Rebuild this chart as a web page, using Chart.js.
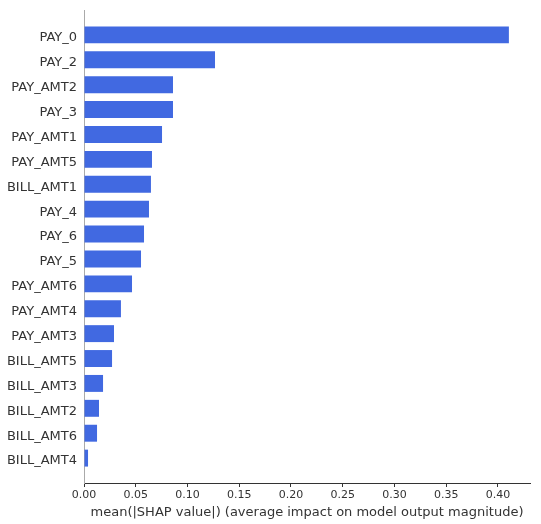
<!DOCTYPE html>
<html>
<head>
<meta charset="utf-8">
<script src="https://cdn.jsdelivr.net/npm/chart.js@4/dist/chart.umd.min.js"></script>
<style>
html,body{margin:0;padding:0;background:#fff;}
#wrap{width:541px;height:524px;position:relative;}
</style>
</head>
<body>
<div id="wrap"><canvas id="c" width="541" height="524"></canvas></div>
<script>
const features = ["PAY_0","PAY_2","PAY_AMT2","PAY_3","PAY_AMT1","PAY_AMT5","BILL_AMT1","PAY_4","PAY_6","PAY_5","PAY_AMT6","PAY_AMT4","PAY_AMT3","BILL_AMT5","BILL_AMT3","BILL_AMT2","BILL_AMT6","BILL_AMT4"];
const meanAbsShap = [0.4106,0.1266,0.0860,0.0860,0.0754,0.0657,0.0647,0.0628,0.0580,0.0551,0.0464,0.0357,0.0290,0.0271,0.0184,0.0145,0.0126,0.0039];
const xTicks = [0,0.05,0.10,0.15,0.20,0.25,0.30,0.35,0.40];
const xLabel = "mean(|SHAP value|) (average impact on model output magnitude)";

Chart.defaults.font.family = "'DejaVu Sans', sans-serif";
Chart.defaults.color = "#333333";

new Chart(document.getElementById('c'), {
  type: 'bar',
  data: {
    datasets: [{
      data: meanAbsShap.map((v, i) => ({x: v, y: i})),
      backgroundColor: '#4169E1',
      borderWidth: 0,
      categoryPercentage: 1.0,
      barPercentage: 0.68
    }]
  },
  options: {
    indexAxis: 'y',
    responsive: false,
    animation: false,
    layout: {padding: {left: 0, right: 11, top: 10, bottom: 0}},
    plugins: {legend: {display: false}, tooltip: {enabled: false}},
    scales: {
      x: {
        type: 'linear',
        min: 0,
        max: 0.431,
        afterBuildTicks: s => { s.ticks = xTicks.map(v => ({value: v})); },
        afterFit: s => { s.height = 41; },
        ticks: {
          font: {size: 11},
          color: '#333333',
          padding: 2,
          maxRotation: 0,
          autoSkip: false,
          callback: v => Number(v).toFixed(2)
        },
        grid: {display: true, drawOnChartArea: false, drawTicks: true, tickLength: 4, color: '#333333', lineWidth: 1},
        border: {display: true, color: '#333333', width: 1},
        title: {display: true, text: xLabel, font: {size: 13}, color: '#333333', padding: {top: 0, bottom: 4}}
      },
      y: {
        type: 'linear',
        reverse: true,
        offset: false,
        min: -1,
        max: features.length,
        afterBuildTicks: s => { s.ticks = features.map((_, i) => ({value: i})); },
        afterFit: s => { s.width = 84; s.paddingTop = 0; s.paddingBottom = 0; },
        ticks: {
          font: {size: 13, lineHeight: '6px'},
          color: '#333333',
          padding: 0,
          autoSkip: false,
          callback: v => ['', features[v]]
        },
        grid: {display: false, drawTicks: true, tickLength: 7, offset: false},
        border: {display: true, color: '#aaaaaa', width: 1}
      }
    }
  }
});
</script>
</body>
</html>
